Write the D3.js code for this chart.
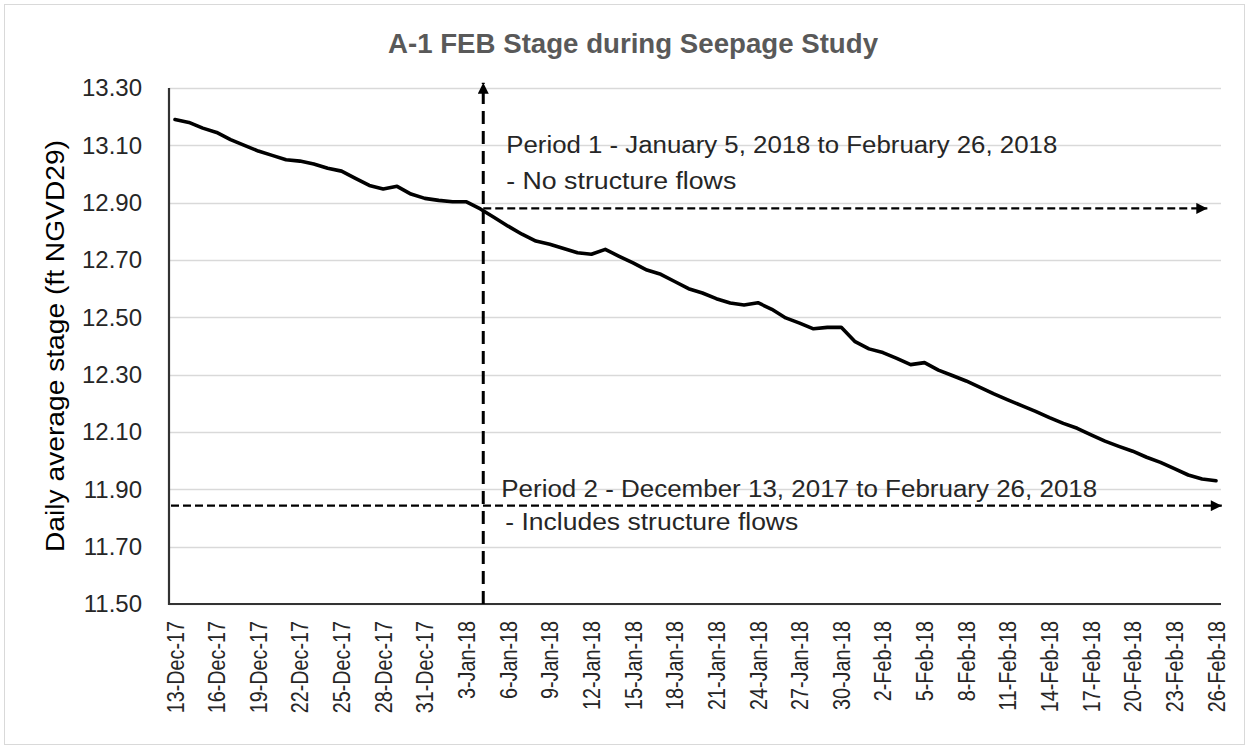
<!DOCTYPE html>
<html><head><meta charset="utf-8">
<script src="https://cdn.jsdelivr.net/npm/d3@7"></script>
<style>
body{margin:0;background:#fff}
svg{display:block}
text{font-family:"Liberation Sans",Arial,sans-serif}
</style></head>
<body><svg id="chart" width="1249" height="749"></svg>
<script>
// ---------- data ----------
const startDate = "2017-12-13";
const stage = [
  13.19, 13.18, 13.16, 13.145, 13.12, 13.10, 13.08, 13.065, 13.05, 13.045,
  13.035, 13.02, 13.01, 12.985, 12.96, 12.948, 12.957, 12.93, 12.915, 12.908,
  12.903, 12.903, 12.878, 12.848, 12.818, 12.79, 12.766, 12.755, 12.74, 12.725,
  12.72, 12.737, 12.713, 12.69, 12.665, 12.65, 12.625, 12.60, 12.585, 12.565,
  12.55, 12.543, 12.551, 12.528, 12.498, 12.48, 12.46, 12.465, 12.465, 12.415,
  12.39, 12.377, 12.357, 12.335, 12.342, 12.316, 12.297, 12.278, 12.256, 12.233,
  12.212, 12.192, 12.172, 12.15, 12.13, 12.113, 12.09, 12.068, 12.05, 12.033,
  12.012, 11.994, 11.972, 11.95, 11.936, 11.93
];
const xTickLabels = ["13-Dec-17","16-Dec-17","19-Dec-17","22-Dec-17","25-Dec-17","28-Dec-17","31-Dec-17",
  "3-Jan-18","6-Jan-18","9-Jan-18","12-Jan-18","15-Jan-18","18-Jan-18","21-Jan-18","24-Jan-18","27-Jan-18","30-Jan-18",
  "2-Feb-18","5-Feb-18","8-Feb-18","11-Feb-18","14-Feb-18","17-Feb-18","20-Feb-18","23-Feb-18","26-Feb-18"];
const yTicks = [11.50, 11.70, 11.90, 12.10, 12.30, 12.50, 12.70, 12.90, 13.10, 13.30];
const titleText = "A-1 FEB Stage during Seepage Study";
const yTitleText = "Daily average stage (ft NGVD29)";
// annotation: period split line and period arrows
const splitDate = "2018-01-04T05:00";
const splitTop = 13.318;
const period1Text = ["Period 1 - January 5, 2018 to February 26, 2018", "- No structure flows"];
const period1Level = 12.88;
const period1End = "2018-02-25T09:00";
const period2Text = ["Period 2 - December 13, 2017 to February 26, 2018", "- Includes structure flows"];
const period2Level = 11.843;
const period2End = "2018-02-26T10:00";

// ---------- layout ----------
const W = 1249, H = 749;
const plotLeft = 169, plotRight = 1221, plotTop = 88, plotBottom = 604;
const svg = d3.select("#chart");

const parseTick = d3.timeParse("%d-%b-%y");
const parseISO = d3.timeParse("%Y-%m-%dT%H:%M");
const start = d3.timeParse("%Y-%m-%d")(startDate);
const data = stage.map((v, i) => ({date: d3.timeDay.offset(start, i), v}));
const tickDates = xTickLabels.map(parseTick);

const x = d3.scaleTime().domain([data[0].date, data[data.length - 1].date]).range([175, 1216]);
const y = d3.scaleLinear().domain([11.5, 13.3]).range([plotBottom, plotTop]);

// chart border
svg.append("rect").attr("x", 4.5).attr("y", 4.5).attr("width", W - 9).attr("height", H - 9)
  .attr("fill", "#fff").attr("stroke", "#d9d9d9").attr("stroke-width", 1);

// gridlines
svg.append("g").selectAll("line").data(yTicks).join("line")
  .attr("x1", plotLeft).attr("x2", plotRight)
  .attr("y1", d => Math.round(y(d)) + 0.5).attr("y2", d => Math.round(y(d)) + 0.5)
  .attr("stroke", "#d9d9d9").attr("stroke-width", 1.5);

// y axis
const gy = svg.append("g").attr("transform", `translate(${plotLeft},0)`)
  .call(d3.axisLeft(y).tickValues(yTicks).tickFormat(d3.format(".2f")).tickSize(0).tickSizeOuter(0).tickPadding(27));
gy.select(".domain").remove();
gy.attr("font-size", 24).attr("font-family", null);
gy.selectAll("text").attr("fill", "#262626");

// x axis
const gx = svg.append("g").attr("transform", `translate(0,${plotBottom})`)
  .call(d3.axisBottom(x).tickValues(tickDates).tickFormat((d, i) => xTickLabels[i]).tickSize(0));
gx.select(".domain").remove();
gx.attr("font-size", 23).attr("font-family", null);
gx.selectAll("text")
  .attr("transform", "rotate(-90)")
  .attr("x", -17).attr("y", 0).attr("dy", "0.35em")
  .attr("text-anchor", "end")
  .attr("fill", "#262626")
  .each(function() {
    const len = this.getComputedTextLength();
    d3.select(this).attr("textLength", len * 0.86).attr("lengthAdjust", "spacingAndGlyphs");
  });

// axis lines
svg.append("path")
  .attr("d", `M${plotLeft},${plotTop}V${plotBottom}H${plotRight}`)
  .attr("fill", "none").attr("stroke", "#333").attr("stroke-width", 2.2);

// arrow marker
const defs = svg.append("defs");
defs.append("marker").attr("id", "arrow")
  .attr("viewBox", "0 0 10 10").attr("refX", 10).attr("refY", 5)
  .attr("markerWidth", 12).attr("markerHeight", 11).attr("markerUnits", "userSpaceOnUse")
  .attr("orient", "auto")
  .append("path").attr("d", "M0,0L10,5L0,10Z").attr("fill", "#000");

// data line
svg.append("path").datum(data)
  .attr("d", d3.line().x(d => x(d.date)).y(d => y(d.v)))
  .attr("fill", "none").attr("stroke", "#000").attr("stroke-width", 3.6)
  .attr("stroke-linejoin", "round").attr("stroke-linecap", "round");

// annotations
const xs = x(parseISO(splitDate));
svg.append("line")
  .attr("x1", xs).attr("x2", xs).attr("y1", y(11.5)).attr("y2", y(splitTop))
  .attr("stroke", "#000").attr("stroke-width", 3).attr("stroke-dasharray", "13,7")
  .attr("marker-end", "url(#arrow)");

const yp1 = y(period1Level);
svg.append("line")
  .attr("x1", xs).attr("x2", x(parseISO(period1End))).attr("y1", yp1).attr("y2", yp1)
  .attr("stroke", "#000").attr("stroke-width", 2.4).attr("stroke-dasharray", "8,4")
  .attr("marker-end", "url(#arrow)");

const yp2 = y(period2Level);
svg.append("line")
  .attr("x1", plotLeft + 2).attr("x2", x(parseISO(period2End))).attr("y1", yp2).attr("y2", yp2)
  .attr("stroke", "#000").attr("stroke-width", 2.4).attr("stroke-dasharray", "8,4")
  .attr("marker-end", "url(#arrow)");

function label(txt, lx, ly, len, size) {
  svg.append("text").attr("x", lx).attr("y", ly).attr("dy", "0.35em")
    .attr("font-size", size).attr("fill", "#262626")
    .attr("textLength", len).attr("lengthAdjust", "spacingAndGlyphs")
    .text(txt);
}
label(period1Text[0], xs + 23, yp1 - 63, 551, 23);
label(period1Text[1], xs + 23, yp1 - 27, 230, 23);
label(period2Text[0], xs + 18, yp2 - 17, 596, 23);
label(period2Text[1], xs + 22, yp2 + 16, 293, 23);

// title
svg.append("text").attr("x", 633).attr("y", 53)
  .attr("text-anchor", "middle").attr("font-size", 27).attr("font-weight", "bold")
  .attr("fill", "#595959").attr("textLength", 490).attr("lengthAdjust", "spacingAndGlyphs")
  .text(titleText);

// y title
svg.append("text")
  .attr("transform", `translate(55,${(plotTop + plotBottom) / 2}) rotate(-90)`)
  .attr("text-anchor", "middle").attr("dy", "0.35em")
  .attr("font-size", 26).attr("fill", "#000")
  .attr("textLength", 412).attr("lengthAdjust", "spacingAndGlyphs")
  .text(yTitleText);
</script>
</body></html>
